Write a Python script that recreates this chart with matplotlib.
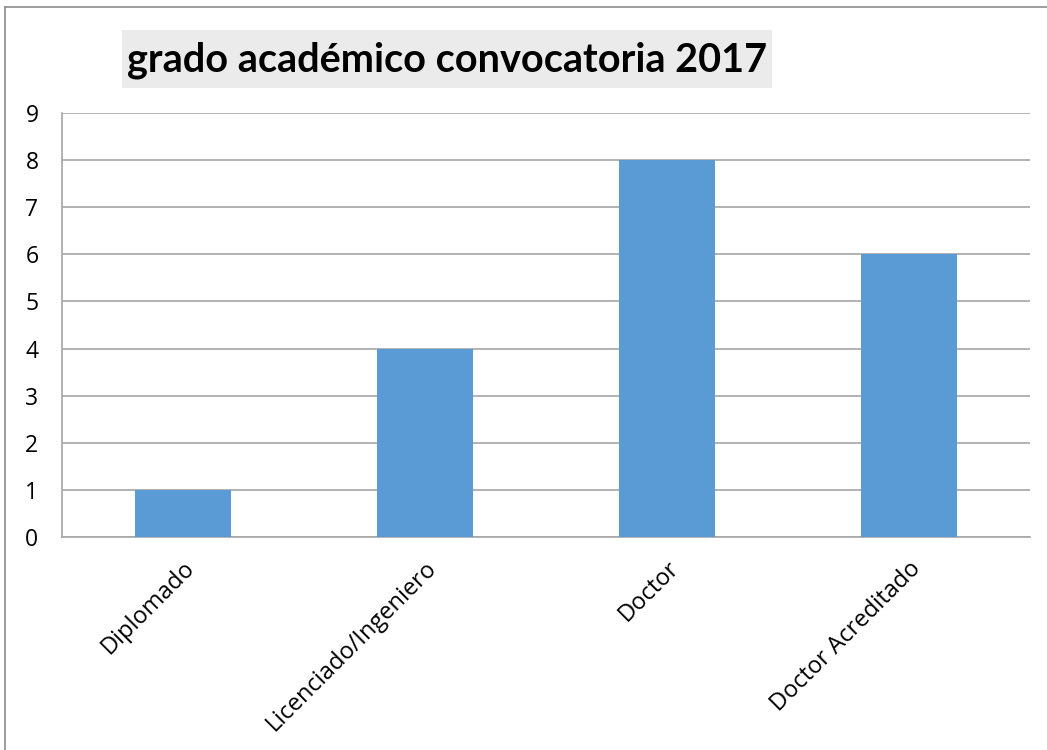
import matplotlib
matplotlib.use("Agg")
import matplotlib.pyplot as plt
from matplotlib.lines import Line2D

categories = ["Diplomado", "Licenciado/Ingeniero", "Doctor", "Doctor Acreditado"]
values = [1, 4, 8, 6]
yticks = list(range(0, 10))
title = "grado académico convocatoria 2017"

W, H = 1047, 750
fig = plt.figure(figsize=(W / 100, H / 100), dpi=100)
fig.patch.set_facecolor("white")

# axes in pixel coords: x 62..1030, y 113..537
ax = fig.add_axes([62 / W, 1 - 537 / H, (1030 - 62) / W, (537 - 113) / H])
x = list(range(len(categories)))
ax.bar(x, values, width=0.4, color="#5B9BD5", zorder=3)
ax.set_xlim(-0.5, len(categories) - 0.5)
ax.set_ylim(0, 9)
ax.set_yticks(yticks)
ax.set_xticks(x)
ax.set_xticklabels(categories, rotation=45, ha="right", rotation_mode="anchor",
                   fontsize=17, family="Open Sans", color="#000000")
for lab in ax.get_yticklabels():
    lab.set_fontsize(16.5)
    lab.set_family("Open Sans")
ax.tick_params(axis="both", length=0)
ax.tick_params(axis="y", pad=17)
ax.tick_params(axis="x", pad=14)
ax.grid(axis="y", color="#A6A6A6", linewidth=1.2, zorder=0)
for s in ["top", "right"]:
    ax.spines[s].set_visible(False)
ax.spines["left"].set_color("#A6A6A6")
ax.spines["bottom"].set_color("#A6A6A6")
ax.spines["left"].set_linewidth(1.2)
ax.spines["bottom"].set_linewidth(1.2)

# title with gray box
fig.patches.append(matplotlib.patches.Rectangle((122 / W, 1 - 88 / H), (772 - 122) / W, (88 - 30) / H,
                                                 transform=fig.transFigure, facecolor="#EBEBEB",
                                                 edgecolor="none"))
fig.text(447 / W, 1 - 60 / H, title, ha="center", va="center", fontsize=28.5,
         fontweight="bold", family="Lato", color="#000000")

# outer border (left and top)
fig.add_artist(Line2D([5 / W, 5 / W], [0, 1 - 7 / H], transform=fig.transFigure,
                      color="#8C8C8C", linewidth=1.2))
fig.add_artist(Line2D([5 / W, 1], [1 - 7 / H, 1 - 7 / H], transform=fig.transFigure,
                      color="#8C8C8C", linewidth=1.2))

fig.savefig("out.png", dpi=100)
